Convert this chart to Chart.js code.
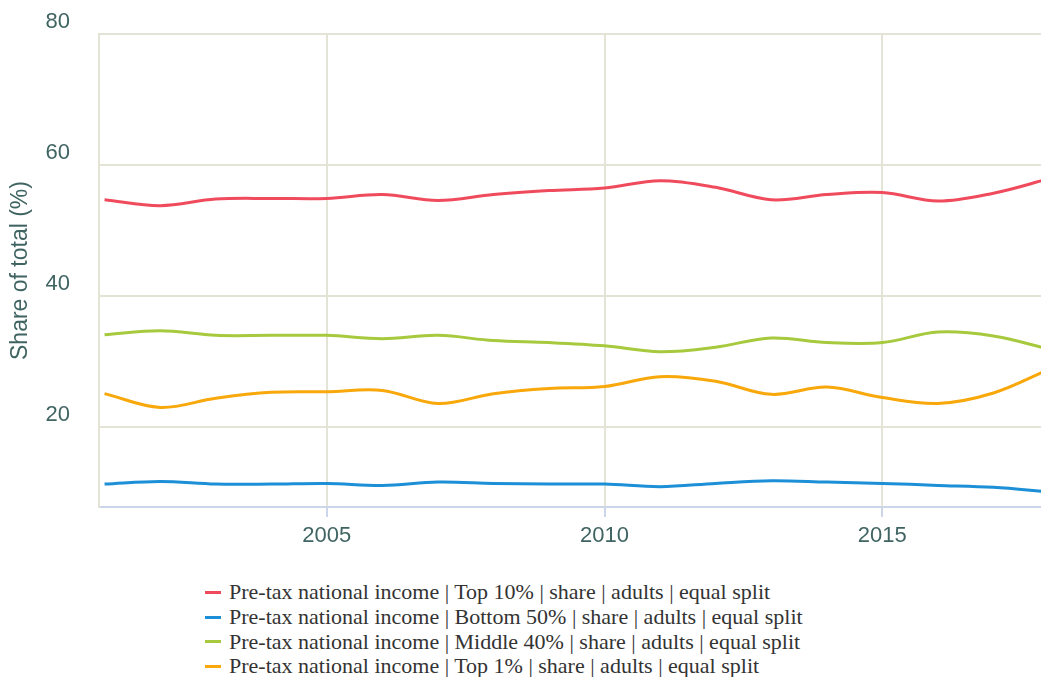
<!DOCTYPE html>
<html>
<head>
<meta charset="utf-8">
<script src="https://cdn.jsdelivr.net/npm/chart.js@4/dist/chart.umd.min.js"></script>
<style>
    html, body { margin: 0; padding: 0; background: #fff; overflow: hidden; }
    #wrap { position: relative; width: 1052px; height: 560px; }
    #legend { position: absolute; left: 205px; top: 580px; font-family: "Liberation Serif", "Times New Roman", serif; font-size: 22px; color: #333; }
    .item { display: flex; align-items: center; height: 24.7px; white-space: nowrap; }
    .swatch { width: 16px; height: 3px; margin-right: 8px; }
</style>
</head>
<body>
<div id="wrap"><canvas id="chartShares"></canvas></div>
<div id="legend"></div>
<script>
const years = [2001, 2002, 2003, 2004, 2005, 2006, 2007, 2008, 2009, 2010, 2011, 2012, 2013, 2014, 2015, 2016, 2017, 2018];
const top10 = [54.7, 53.8, 54.8, 54.9, 54.9, 55.5, 54.6, 55.5, 56.1, 56.5, 57.6, 56.6, 54.7, 55.5, 55.8, 54.5, 55.7, 57.9];
const bottom50 = [11.3, 11.7, 11.3, 11.3, 11.4, 11.1, 11.6, 11.4, 11.3, 11.3, 10.9, 11.4, 11.8, 11.6, 11.4, 11.1, 10.8, 10.1];
const middle40 = [34.1, 34.7, 34.0, 34.0, 34.0, 33.5, 34.0, 33.2, 32.9, 32.4, 31.5, 32.2, 33.6, 32.9, 32.9, 34.5, 33.9, 31.9];
const top1 = [25.1, 23.0, 24.4, 25.3, 25.4, 25.6, 23.6, 25.1, 25.9, 26.2, 27.7, 27.0, 25.0, 26.1, 24.5, 23.6, 25.2, 28.8];
const yTicks = [20, 40, 60, 80];
const xTicks = [2005, 2010, 2015];

const seriesNames = [
    "Pre-tax national income | Top 10% | share | adults | equal split",
    "Pre-tax national income | Bottom 50% | share | adults | equal split",
    "Pre-tax national income | Middle 40% | share | adults | equal split",
    "Pre-tax national income | Top 1% | share | adults | equal split",
];
const seriesColors = ["#ef4b5d", "#1c8fd6", "#a7c93d", "#f8a80a"];
const seriesValues = [top10, bottom50, middle40, top1];

const axisText = "#3f6462";
const gridColor = "#e4e4d6";
const axisBlue = "#ccd6eb";

const datasets = seriesNames.map((name, i) => ({
    label: name,
    data: years.map((yr, j) => ({ x: yr, y: seriesValues[i][j] })),
    borderColor: seriesColors[i],
    backgroundColor: seriesColors[i],
    borderWidth: 3,
    pointRadius: 0,
    tension: 0.35,
    fill: false,
}));

const ctx = document.getElementById("chartShares");
const chart = new Chart(ctx, {
    type: "line",
    data: { datasets: datasets },
    options: {
        responsive: true,
        maintainAspectRatio: false,
        animation: false,
        layout: { padding: { top: 34, right: 3, left: 0, bottom: 0 } },
        plugins: { legend: { display: false }, tooltip: { enabled: false } },
        scales: {
            x: {
                type: "linear",
                min: 2000.9,
                max: 2018,
                afterBuildTicks: (scale) => { scale.ticks = xTicks.map((v) => ({ value: v })); },
                afterFit: (scale) => { scale.height = 53; },
                grid: { color: gridColor, lineWidth: 2, tickColor: axisBlue, tickLength: 10, drawTicks: true },
                border: { color: axisBlue, width: 2 },
                ticks: {
                    color: axisText,
                    padding: 6,
                    maxRotation: 0,
                    font: { family: "'Liberation Sans', Arial, sans-serif", size: 22 },
                    callback: (v) => String(v),
                },
            },
            y: {
                min: 7.8,
                max: 80,
                afterBuildTicks: (scale) => { scale.ticks = yTicks.map((v) => ({ value: v })); },
                afterFit: (scale) => {
                    scale.width = 99;
                    // label padding should not push the plot down
                    scale.paddingTop = 0;
                    scale.paddingBottom = 0;
                },
                grid: { color: gridColor, lineWidth: 2, drawTicks: false },
                border: { color: gridColor, width: 2 },
                ticks: {
                    color: axisText,
                    padding: 29,
                    labelOffset: -12,
                    font: { family: "'Liberation Sans', Arial, sans-serif", size: 22 },
                },
                title: {
                    display: true,
                    text: "Share of total (%)",
                    color: axisText,
                    padding: { top: 7, bottom: 0 },
                    font: { family: "'Liberation Sans', Arial, sans-serif", size: 23, weight: "normal" },
                },
            },
        },
    },
});

// html legend, one row per series, left aligned like the original
const legendBox = document.getElementById("legend");
datasets.forEach((ds) => {
    const row = document.createElement("div");
    row.className = "item";
    const sw = document.createElement("span");
    sw.className = "swatch";
    sw.style.background = ds.borderColor;
    const txt = document.createElement("span");
    txt.textContent = ds.label;
    row.appendChild(sw);
    row.appendChild(txt);
    legendBox.appendChild(row);
});
</script>
</body>
</html>
